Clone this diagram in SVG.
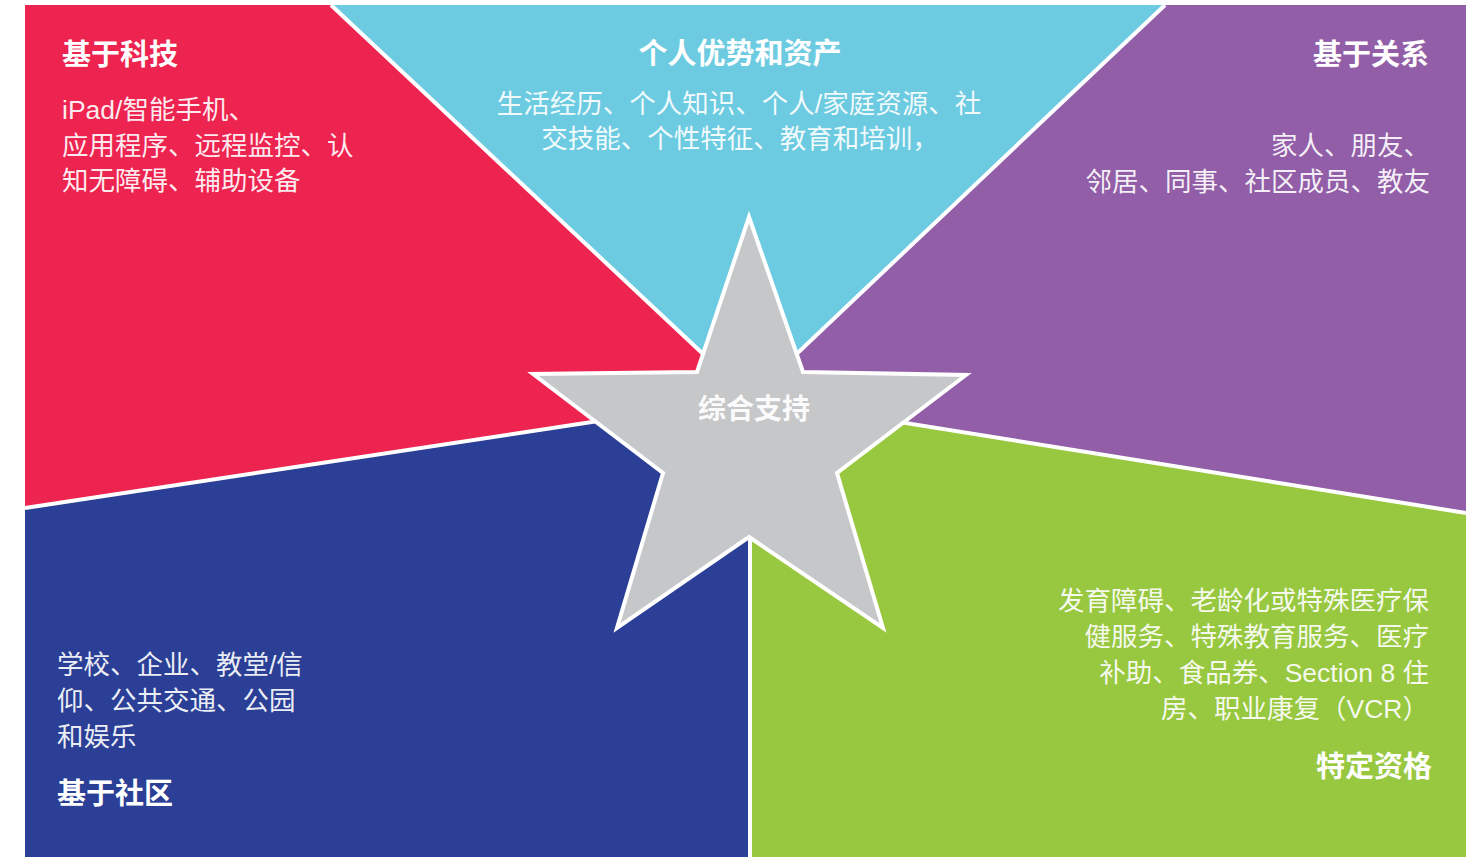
<svg xmlns="http://www.w3.org/2000/svg" width="1483" height="857" viewBox="0 0 1483 857">
<style>
.t{font-family:"Liberation Sans","Noto Sans CJK SC",sans-serif;fill:#ffffff}
.h{font-size:29px;font-weight:bold}
.b{font-size:26.5px;fill-opacity:0.92}
.sep{stroke:#ffffff;stroke-width:4;fill:none}
</style>
<rect x="0" y="0" width="1483" height="857" fill="#ffffff"/>
<g id="tech">
<polygon points="25,5 331,5 750,398 25,508" fill="#ED2350"/>
<text class="t h" x="62" y="65">基于科技</text>
<text class="t b" x="62" y="119">iPad/智能手机、</text>
<text class="t b" x="62" y="155">应用程序、远程监控、认</text>
<text class="t b" x="62" y="190">知无障碍、辅助设备</text>
</g>
<g id="personal">
<polygon points="331,5 1165,5 750,398" fill="#6DCBE1"/>
<text class="t h" x="740" y="64" text-anchor="middle">个人优势和资产</text>
<text class="t b" x="739" y="113" text-anchor="middle">生活经历、个人知识、个人/家庭资源、社</text>
<text class="t b" x="740" y="148" text-anchor="middle">交技能、个性特征、教育和培训，</text>
</g>
<g id="relation">
<polygon points="1165,5 1466,5 1466,513 750,398" fill="#915EA7"/>
<text class="t h" x="1429" y="65" text-anchor="end">基于关系</text>
<text class="t b" x="1430" y="155" text-anchor="end">家人、朋友、</text>
<text class="t b" x="1430" y="191" text-anchor="end">邻居、同事、社区成员、教友</text>
</g>
<g id="eligibility">
<polygon points="750,398 1466,513 1466,857 750,857" fill="#98C83F"/>
<text class="t b" x="1429" y="610" text-anchor="end">发育障碍、老龄化或特殊医疗保</text>
<text class="t b" x="1429" y="646" text-anchor="end">健服务、特殊教育服务、医疗</text>
<text class="t b" x="1429" y="682" text-anchor="end">补助、食品券、Section 8 住</text>
<text class="t b" x="1429" y="718" text-anchor="end">房、职业康复（VCR）</text>
<text class="t h" x="1432" y="777" text-anchor="end">特定资格</text>
</g>
<g id="community">
<polygon points="25,508 750,398 750,857 25,857" fill="#2B3F96"/>
<text class="t b" x="57" y="674">学校、企业、教堂/信</text>
<text class="t b" x="57" y="710">仰、公共交通、公园</text>
<text class="t b" x="57" y="746">和娱乐</text>
<text class="t h" x="57" y="804">基于社区</text>
</g>
<g id="connectors">
<line class="sep" x1="331" y1="5" x2="750" y2="398"/>
<line class="sep" x1="1165" y1="5" x2="750" y2="398"/>
<line class="sep" x1="25" y1="508" x2="750" y2="398"/>
<line class="sep" x1="1466" y1="513" x2="750" y2="398"/>
<line class="sep" x1="750" y1="398" x2="750" y2="857"/>
</g>
<g id="center">
<polygon points="749,217 803,372 966,375 837,473 883,628 749,537 617,628 663,473 533,374 697,372" fill="#C6C7C9" stroke="#ffffff" stroke-width="4" stroke-linejoin="miter"/>
<text class="t" x="754" y="419" text-anchor="middle" font-size="28" font-weight="bold" fill-opacity="0.95">综合支持</text>
</g>
</svg>
